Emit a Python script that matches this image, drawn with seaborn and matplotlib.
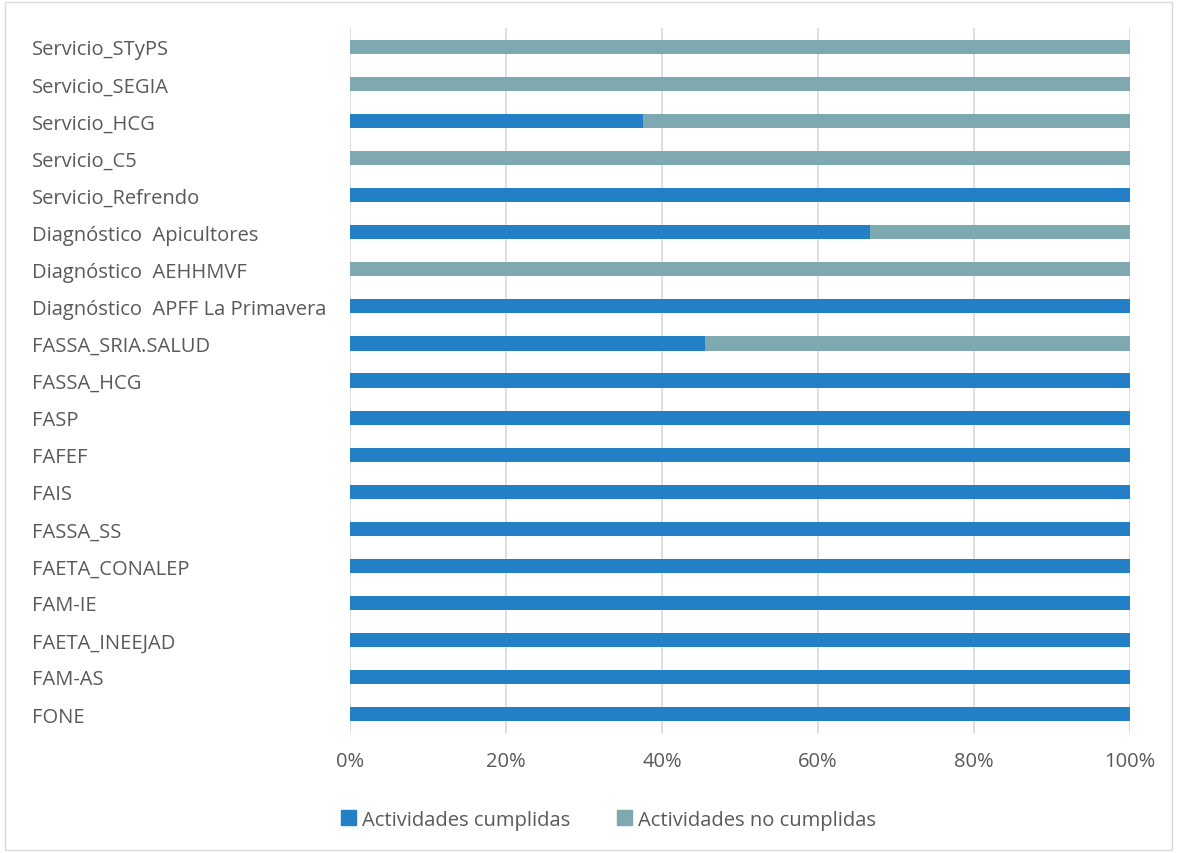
import matplotlib
matplotlib.use("Agg")
import matplotlib.pyplot as plt
import matplotlib.patches as mpatches
import seaborn as sns
import pandas as pd

categories = [
    "Servicio_STyPS", "Servicio_SEGIA", "Servicio_HCG", "Servicio_C5",
    "Servicio_Refrendo", "Diagnóstico  Apicultores", "Diagnóstico  AEHHMVF",
    "Diagnóstico  APFF La Primavera", "FASSA_SRIA.SALUD", "FASSA_HCG", "FASP",
    "FAFEF", "FAIS", "FASSA_SS", "FAETA_CONALEP", "FAM-IE", "FAETA_INEEJAD",
    "FAM-AS", "FONE",
]
cumplidas = [0, 0, 37.5, 0, 100, 66.7, 0, 100, 45.5, 100, 100, 100, 100, 100, 100, 100, 100, 100, 100]
no_cumplidas = [100, 100, 62.5, 100, 0, 33.3, 100, 0, 54.5, 0, 0, 0, 0, 0, 0, 0, 0, 0, 0]
xticks = [0, 20, 40, 60, 80, 100]
xtick_labels = ["0%", "20%", "40%", "60%", "80%", "100%"]
series_names = ["Actividades cumplidas", "Actividades no cumplidas"]

c_blue = "#2480C6"
c_grey = "#7FA9B1"
txt = "#595959"

sns.set_style("white")
plt.rcParams["font.family"] = ["Open Sans", "DejaVu Sans"]
fs = 14.5

df = pd.DataFrame({
    "cat": categories,
    "cumplidas": cumplidas,
    "total": [a + b for a, b in zip(cumplidas, no_cumplidas)],
})

fig = plt.figure(figsize=(11.77, 8.54), dpi=100)
ax = fig.add_axes([0.2974, 0.141, 0.6627, 0.8245])

sns.barplot(data=df, y="cat", x="total", color=c_grey, width=0.38,
            orient="h", ax=ax, saturation=1, linewidth=0)
sns.barplot(data=df, y="cat", x="cumplidas", color=c_blue, width=0.38,
            orient="h", ax=ax, saturation=1, linewidth=0)

ax.set_xlim(0, 100)
ax.set_ylim(len(categories) - 0.5, -0.5)
ax.set_xticks(xticks)
ax.set_xticklabels(xtick_labels)
ax.set_xlabel("")
ax.set_ylabel("")
ax.grid(axis="x", color="#D9D9D9", linewidth=1.2)
ax.set_axisbelow(True)
for s in ax.spines.values():
    s.set_visible(False)
ax.tick_params(axis="x", length=0, pad=13, labelsize=fs, labelcolor=txt)
ax.tick_params(axis="y", length=0, pad=229, labelsize=fs, labelcolor=txt)
for lab in ax.get_yticklabels():
    lab.set_horizontalalignment("left")

handles = [mpatches.Patch(color=c_blue, label=series_names[0]),
           mpatches.Patch(color=c_grey, label=series_names[1])]
leg = fig.legend(handles=handles, loc="center", bbox_to_anchor=(0.517, 0.039),
                 ncol=2, frameon=False, fontsize=fs, handlelength=0.75,
                 handleheight=0.8, handletextpad=0.3, columnspacing=2.3)
for t in leg.get_texts():
    t.set_color(txt)

fig.patches.append(mpatches.Rectangle((0.004, 0.004), 0.992, 0.992,
                                      transform=fig.transFigure, fill=False,
                                      edgecolor="#D9D9D9", linewidth=1))

fig.savefig("out.png", dpi=100)
